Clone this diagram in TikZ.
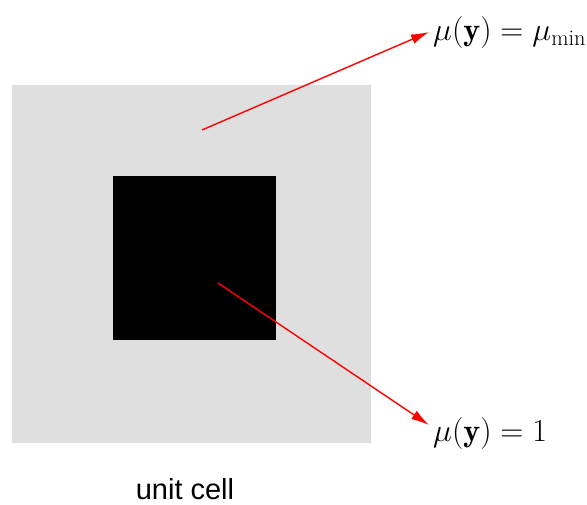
\RequirePackage{fix-cm}
\documentclass[tikz,border=0pt]{standalone}
\usepackage{amsmath,amssymb}
\usepackage{fontspec}
\newfontfamily\capfont{Liberation Sans}
\usetikzlibrary{arrows.meta}
\usepackage{xcolor}
\definecolor{cellgray}{HTML}{DFDFDF}

\begin{document}
\begin{tikzpicture}[x=1pt,y=1pt,font=\fontsize{32}{38}\selectfont,
  lbl/.style={anchor=base west,inner sep=4pt},
  ptr/.style={red,line width=1.4pt,-{Latex[length=18pt,width=10pt]}}]
\useasboundingbox (0,0) rectangle (587,505);
% unit cell and inclusion
\fill[cellgray] (12,62) rectangle (371,420);
\fill[black] (113,165) rectangle (276,329);
\coordinate (matrix) at (202,375);
\coordinate (incl) at (218,222);
\node[lbl] (mumin) at (429,464) {$\mu(\mathbf{y}) = \mu_{\min}$};
\node[lbl] (muone) at (429,63) {$\mu(\mathbf{y}) = 1$};
\node[font=\capfont\fontsize{29}{34}\selectfont,anchor=base,inner sep=1pt] (caption) at (185,5) {unit cell};
\draw[ptr] (matrix) -- ([yshift=1pt]mumin.west);
\draw[ptr] (incl) -- ([yshift=9pt]muone.west);
\end{tikzpicture}
\end{document}
